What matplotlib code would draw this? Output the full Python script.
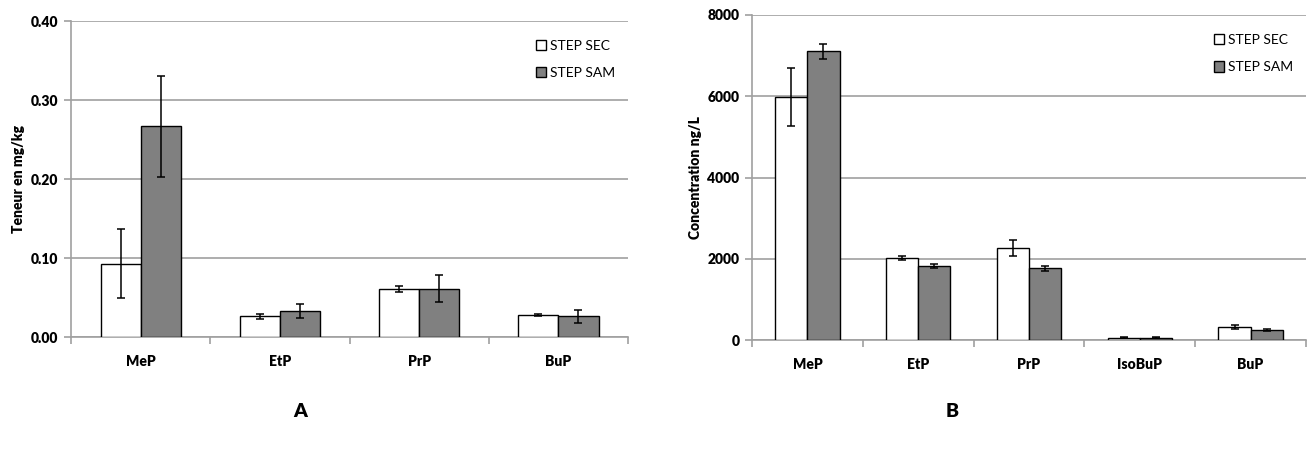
import numpy as np
import matplotlib.pyplot as plt

# panel A : sludge content (mg/kg)
cats_a = ['MeP', 'EtP', 'PrP', 'BuP']
sec_a = [0.093, 0.026, 0.061, 0.028]
sec_a_err = [0.044, 0.0035, 0.004, 0.001]
sam_a = [0.267, 0.033, 0.061, 0.026]
sam_a_err = [0.064, 0.009, 0.017, 0.008]
ticks_a = [0.0, 0.1, 0.2, 0.3, 0.4]

# panel B : concentration (ng/L)
cats_b = ['MeP', 'EtP', 'PrP', 'IsoBuP', 'BuP']
sec_b = [5980, 2025, 2260, 60, 320]
sec_b_err = [710, 50, 200, 10, 60]
sam_b = [7110, 1830, 1770, 60, 250]
sam_b_err = [185, 50, 60, 10, 30]
ticks_b = [0, 2000, 4000, 6000, 8000]

plt.rcParams['font.family'] = ['Lato', 'DejaVu Sans']
GRID = '#a0a0a0'
GREY = '#808080'


def draw_panel(ax, cats, sec, sec_err, sam, sam_err, ticks, fmt, ylabel, w):
    x = np.arange(len(cats))
    ek = dict(ecolor='black', elinewidth=1.1, capsize=3, capthick=1.1)
    ax.bar(x - w / 2, sec, w, yerr=sec_err, color='white', edgecolor='black',
           linewidth=1, label='STEP SEC', error_kw=ek, zorder=3)
    ax.bar(x + w / 2, sam, w, yerr=sam_err, color=GREY, edgecolor='black',
           linewidth=1, label='STEP SAM', error_kw=ek, zorder=3)

    ax.set_xlim(-0.5, len(cats) - 0.5)
    ax.set_ylim(ticks[0], ticks[-1])
    ax.set_yticks(ticks)
    ax.set_yticklabels([fmt(t) for t in ticks], fontweight='heavy', fontsize=10)
    ax.yaxis.grid(True, color=GRID, linewidth=1.2, zorder=0)
    ax.set_axisbelow(True)

    # category labels between minor boundary ticks
    ax.set_xticks(x)
    ax.set_xticklabels(cats, fontweight='heavy', fontsize=10)
    ax.tick_params(axis='x', length=0, pad=13)
    ax.set_xticks(np.arange(len(cats) + 1) - 0.5, minor=True)
    ax.tick_params(axis='x', which='minor', length=5, color=GRID, width=1.2)
    ax.tick_params(axis='y', length=5, color=GRID, width=1.2, pad=4)

    for s in ['top', 'right']:
        ax.spines[s].set_visible(False)
    for s in ['left', 'bottom']:
        ax.spines[s].set_color(GRID)
        ax.spines[s].set_linewidth(1.2)

    ax.set_ylabel(ylabel, fontweight='heavy', fontsize=10, labelpad=4)

    ax.legend(loc='upper right', bbox_to_anchor=(1.0, 0.98), frameon=False,
              handlelength=0.75, handleheight=0.75, handletextpad=0.3,
              labelspacing=1.1, fontsize=10)


fig = plt.figure(figsize=(13.12, 4.5), dpi=100)
ax_a = fig.add_axes([0.0541, 0.2511, 0.4246, 0.7022])
ax_b = fig.add_axes([0.5732, 0.2444, 0.4222, 0.7223])

draw_panel(ax_a, cats_a, sec_a, sec_a_err, sam_a, sam_a_err, ticks_a,
           lambda t: '%.2f' % t, 'Teneur en mg/kg', 0.288)
draw_panel(ax_b, cats_b, sec_b, sec_b_err, sam_b, sam_b_err, ticks_b,
           lambda t: '%d' % t, 'Concentration ng/L', 0.29)

fig.text(0.2287, 0.085, 'A', ha='center', va='center', fontsize=14, fontweight='heavy')
fig.text(0.7256, 0.085, 'B', ha='center', va='center', fontsize=14, fontweight='heavy')

fig.savefig('out.png', dpi=100)
